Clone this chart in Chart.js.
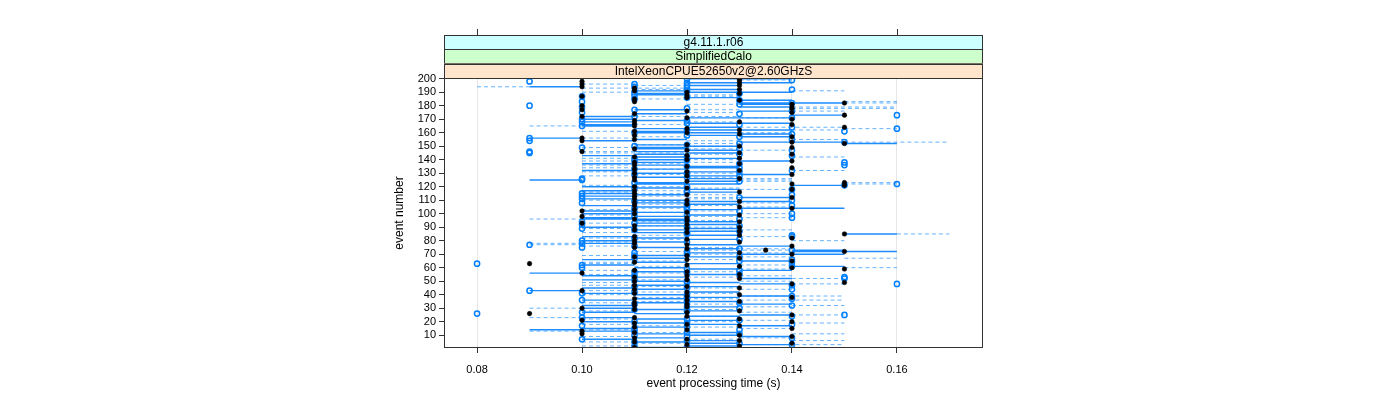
<!DOCTYPE html>
<html><head><meta charset="utf-8">
<script src="https://cdn.jsdelivr.net/npm/chart.js@4.4.1/dist/chart.umd.min.js"></script>
<style>html,body{margin:0;padding:0;background:#fff}canvas{display:block}</style>
</head><body>
<canvas id="c" width="1400" height="400"></canvas>
<script>
// All per-event arrays are ordered from event 200 down to event 1.
const stripLabels = ["g4.11.1.r06", "SimplifiedCalo", "IntelXeonCPUE52650v2@2.60GHzS"];
const stripColors = ["#ccffff", "#ccffcc", "#ffe5cc"];
const xTicks = [0.08, 0.10, 0.12, 0.14, 0.16];
const yTicks = [10,20,30,40,50,60,70,80,90,100,110,120,130,140,150,160,170,180,190,200];

const blackTime = [
.13,.13,.10,.13,.10,.13,.10,.11,.13,.11, .12,.13,.12,.10,.12,.11,.13,.11,.15,.14,
.10,.14,.14,.10,.12,.14,.11,.15,.10,.12, .14,.11,.13,.11,.14,.11,.15,.12,.13,.11,
.12,.13,.11,.14,.10,.11,.10,.14,.15,.12, .13,.14,.11,.12,.10,.13,.14,.12,.11,.13,
.12,.14,.11,.13,.11,.12,.14,.11,.13,.12, .11,.14,.12,.11,.13,.11,.12,.15,.14,.15,
.11,.12,.14,.11,.13,.11,.12,.11,.14,.11, .12,.13,.11,.12,.11,.13,.14,.11,.10,.12,
.11,.13,.10,.12,.11,.12,.13,.10,.12,.11, .13,.12,.11,.13,.12,.15,.13,.11,.14,.12,
.11,.13,.11,.12,.14,.11,.12,.135,.15,.13, .14,.12,.11,.13,.12,.14,.11,.09,.12,.13,
.14,.15,.11,.12,.10,.13,.12,.11,.13,.12, .11,.15,.14,.11,.12,.13,.11,.10,.12,.11,
.13,.12,.14,.11,.12,.13,.11,.12,.11,.12, .10,.11,.13,.12,.09,.14,.12,.11,.13,.10,
.14,.11,.12,.13,.11,.14,.12,.10,.11,.10, .13,.14,.11,.12,.13,.11,.14,.12,.13,.11
];
const blueTime = [
.12,.14,.09,.12,.11,.12,.11,.12,.14,.12, .11,.13,.11,.10,.12,.11,.13,.10,.14,.13,
.09,.10,.12,.11,.14,.10,.13,.16,.11,.14, .10,.12,.10,.12,.13,.10,.14,.16,.12,.15,
.11,.14,.12,.13,.09,.14,.09,.15,.13,.12, .11,.10,.13,.14,.09,.09,.13,.14,.12,.11,
.12,.11,.15,.13,.15,.12,.13,.11,.14,.13, .12,.11,.13,.12,.10,.10,.13,.11,.16,.15,
.12,.11,.14,.12,.12,.10,.14,.10,.13,.10, .14,.11,.10,.12,.14,.12,.11,.12,.13,.11,
.14,.12,.11,.14,.13,.12,.10,.11,.10,.13, .12,.10,.11,.13,.12,.12,.14,.14,.11,.13,
.10,.12,.10,.09,.11,.10,.13,.14,.12,.11, .12,.11,.13,.11,.14,.13,.14,.08,.10,.14,
.10,.12,.13,.11,.12,.13,.11,.15,.15,.11, .12,.12,.16,.14,.11,.12,.14,.09,.11,.10,
.12,.14,.12,.14,.10,.12,.13,.11,.14,.12, .13,.11,.12,.10,.08,.15,.14,.10,.12,.13,
.11,.12,.14,.10,.12,.11,.13,.11,.12,.13, .11,.12,.14,.10,.12,.11,.13,.14,.11,.12
];
const solidStart = [
.12,null,null,.12,null,.12,.09,null,.12,.11, .12,.11,.11,null,.12,null,.13,null,.13,.13,
null,.13,null,.11,.13,null,.11,.14,.10,.12, .10,.11,.10,.12,.10,.10,.12,.11,.12,.11,
.11,.13,.12,.13,.09,.11,.10,.13,.15,.11, .12,.11,.11,.12,.11,.12,.11,.10,.11,.12,
.11,.13,.11,.10,.11,.12,.12,.11,.10,.12, .11,.13,.12,.11,.12,.09,.12,.11,.11,.14,
.10,.11,.12,.10,.12,.10,.11,.10,.13,.10, .11,.12,.11,.12,.10,.11,.13,.12,.10,.11,
.10,.12,.11,.10,.10,.11,.12,.11,.12,.11, .10,.12,.11,.12,.11,.15,.12,.10,.11,.12,
.10,.11,.10,.12,.13,.11,.12,.14,.14,.12, .13,.11,.12,.11,.10,.13,.11,.12,.10,.14,
.11,.12,.13,.11,.09,.12,.10,.11,.13,.10, .11,.12,.13,.11,.12,.10,.11,.09,.12,.10,
.11,.13,.12,.11,.10,.12,.11,.13,.10,.12, .10,.11,.12,.10,.11,.13,.12,.10,.11,.12,
.10,.11,.12,.13,.11,.10,.09,.10,.12,.11, .12,.13,.11,.10,.12,.11,.12,.13,.12,.11
];
const solidEnd = [
.14,null,null,.14,null,.13,.10,null,.13,.12, .14,.12,.12,null,.13,null,.14,null,.15,.14,
null,.14,null,.12,.14,null,.12,.15,.11,.14, .11,.12,.11,.14,.11,.11,.13,.12,.14,.12,
.13,.14,.13,.14,.10,.12,.11,.15,.16,.12, .13,.12,.12,.13,.12,.13,.12,.11,.12,.13,
.12,.14,.12,.11,.12,.13,.13,.12,.11,.13, .12,.14,.13,.12,.13,.10,.13,.12,.13,.15,
.11,.12,.13,.11,.13,.11,.12,.11,.14,.11, .12,.14,.12,.13,.11,.12,.15,.13,.11,.12,
.11,.13,.12,.11,.12,.12,.13,.12,.13,.12, .11,.13,.12,.13,.12,.16,.13,.11,.12,.13,
.11,.12,.11,.13,.14,.12,.13,.15,.16,.13, .15,.12,.13,.12,.11,.14,.12,.13,.11,.15,
.12,.13,.14,.12,.10,.13,.11,.12,.14,.11, .12,.13,.14,.12,.13,.11,.12,.10,.13,.11,
.12,.14,.13,.12,.11,.13,.12,.14,.11,.13, .11,.12,.13,.11,.12,.14,.13,.11,.12,.13,
.11,.12,.13,.14,.12,.11,.10,.11,.13,.12, .13,.14,.12,.11,.13,.12,.13,.14,.13,.12
];
const dashStart = [
null,.13,null,null,.10,.11,.08,.10,.11,.14, .10,null,.12,.12,null,.11,.13,.15,.15,.12,
null,.14,.14,.12,.14,.12,.11,null,.11,.13, null,.11,.12,null,.11,.09,.13,.15,.14,.10,
.13,.13,null,.11,.10,.14,.12,.15,.12,.11, .12,.10,.12,.13,.10,.10,.12,.10,.14,.10,
.12,.10,.12,.11,.10,.12,.10,.11,.14,.10, .12,.11,.10,.12,.13,.13,.13,.15,.15,.10,
.11,.12,.13,.11,.10,.11,.12,.11,.12,.12, .10,.11,.13,.11,.12,.13,.11,.10,.12,.11,
.13,.10,.12,.13,.09,.12,.11,.10,.12,.11, .12,.10,.13,.12,.10,.16,.11,.13,.10,.11,
.14,.10,.09,.09,.10,.12,.13,.12,.11,.13, .12,.10,.13,.15,.12,.11,.10,.10,.13,.11,
.15,.13,.10,.12,.11,.10,.13,.12,.14,.11, .13,.10,.14,.10,.11,.12,.13,.10,.11,.12,
.10,.13,.11,.12,.13,.11,.10,.12,.14,.13, .09,.12,.10,.13,.11,.14,.12,.09,.10,.13,
.12,.14,.10,.11,.12,.13,.10,.09,.11,.14, .12,.10,.13,.12,.14,.10,.11,.13,.10,.12
];
const dashEnd = [
null,.14,null,null,.11,.12,.09,.12,.12,.15, .11,null,.13,.13,null,.12,.14,.16,.16,.13,
null,.16,.16,.13,.15,.13,.12,null,.13,.14, null,.12,.13,null,.12,.10,.15,.16,.15,.11,
.14,.14,null,.12,.11,.15,.13,.17,.13,.12, .13,.11,.13,.14,.11,.12,.13,.11,.15,.11,
.13,.11,.13,.12,.11,.13,.11,.12,.15,.11, .13,.12,.11,.13,.14,.14,.14,.16,.16,.11,
.12,.13,.14,.12,.11,.12,.13,.12,.13,.13, .11,.12,.14,.12,.13,.14,.12,.11,.13,.12,
.14,.11,.13,.14,.10,.13,.12,.11,.13,.12, .13,.11,.14,.13,.11,.17,.12,.14,.11,.12,
.15,.11,.10,.10,.11,.13,.14,.14,.12,.14, .13,.11,.14,.16,.13,.12,.11,.11,.14,.12,
.16,.14,.11,.13,.12,.11,.14,.13,.15,.12, .14,.11,.15,.11,.12,.13,.14,.11,.12,.13,
.11,.15,.12,.13,.15,.12,.11,.13,.15,.14, .10,.13,.11,.14,.12,.15,.13,.10,.11,.14,
.13,.15,.11,.12,.13,.14,.11,.10,.12,.15, .13,.11,.14,.13,.15,.11,.12,.15,.11,.13
];

const N = blackTime.length;
const eventOf = i => N - i;
const pts = arr => arr.map((v, i) => ({x: v, y: eventOf(i)}));
function segs(a, b) {
  const out = [];
  a.forEach((s, i) => {
    if (s === null) return;
    const y = eventOf(i);
    out.push({x: s, y: y}, {x: b[i], y: y}, {x: b[i], y: null});
  });
  return out;
}

const FONT = "'Liberation Sans', Arial, Helvetica, sans-serif";
const PLOT = {left: 444, right: 983, top: 78, bottom: 348};

const decor = {
  id: 'decor',
  afterDraw(chart) {
    const ctx = chart.ctx, ca = chart.chartArea, xs = chart.scales.x;
    ctx.save();
    const stripTop = 35, h = (ca.top - stripTop) / 3;
    for (let k = 0; k < 3; k++) {
      const y0 = stripTop + k * h;
      ctx.fillStyle = stripColors[k];
      ctx.fillRect(ca.left, y0, ca.right - ca.left, h);
      ctx.strokeStyle = '#333';
      ctx.lineWidth = 1;
      ctx.strokeRect(ca.left + 0.5, Math.round(y0) + 0.5, ca.right - ca.left - 1, Math.round(h));
      ctx.fillStyle = '#000';
      ctx.font = '12px ' + FONT;
      ctx.textAlign = 'center';
      ctx.textBaseline = 'middle';
      ctx.fillText(stripLabels[k], (ca.left + ca.right) / 2, y0 + h / 2 + 0.5);
    }
    ctx.strokeStyle = '#333';
    xTicks.forEach(v => {
      const x = Math.round(xs.getPixelForValue(v)) + 0.5;
      ctx.beginPath(); ctx.moveTo(x, stripTop - 6); ctx.lineTo(x, stripTop); ctx.stroke();
    });
    ctx.strokeStyle = '#333';
    ctx.strokeRect(ca.left + 0.5, ca.top + 0.5, ca.right - ca.left - 1, ca.bottom - ca.top - 1);
    ctx.restore();
  }
};

new Chart(document.getElementById('c'), {
  type: 'scatter',
  data: {
    datasets: [
      {label: 'black', data: pts(blackTime), pointRadius: 2.3, pointBackgroundColor: '#000', pointBorderColor: '#000', pointBorderWidth: 0.5},
      {label: 'blue', data: pts(blueTime), pointRadius: 2.6, pointBackgroundColor: 'rgba(0,0,0,0)', pointBorderColor: '#0080ff', pointBorderWidth: 1.5},
      {label: 'solid', data: segs(solidStart, solidEnd), showLine: true, spanGaps: false, pointRadius: 0, borderColor: '#1e8cff', borderWidth: 1.4},
      {label: 'dashed', data: segs(dashStart, dashEnd), showLine: true, spanGaps: false, pointRadius: 0, borderColor: 'rgba(0,128,255,0.6)', borderWidth: 1, borderDash: [4, 3]}
    ]
  },
  options: {
    responsive: false,
    animation: false,
    events: [],
    layout: {padding: {left: 388, right: 1400 - PLOT.right, top: PLOT.top, bottom: 0}},
    plugins: {legend: {display: false}, tooltip: {enabled: false}},
    scales: {
      x: {
        type: 'linear', min: 0.0737, max: 0.1764,
        afterBuildTicks: s => { s.ticks = xTicks.map(v => ({value: v})); },
        afterFit: s => { s.height = 400 - PLOT.bottom; },
        ticks: {callback: v => v.toFixed(2), color: '#000', font: {size: 11, family: FONT}, padding: 10, maxRotation: 0, autoSkip: false},
        grid: {color: '#e6e6e6', tickColor: '#333', tickLength: 5, drawOnChartArea: true},
        border: {display: false},
        title: {display: true, text: 'event processing time (s)', color: '#000', font: {size: 12, family: FONT}, padding: {top: 4, bottom: 9}}
      },
      y: {
        type: 'linear', min: 0.5, max: 200.5,
        afterBuildTicks: s => { s.ticks = yTicks.map(v => ({value: v})); },
        afterFit: s => { s.width = PLOT.left - 388; },
        ticks: {color: '#000', font: {size: 11, family: FONT}, padding: 3, autoSkip: false},
        grid: {color: 'rgba(0,0,0,0)', tickColor: '#333', tickLength: 5},
        border: {display: false},
        title: {display: true, text: 'event number', color: '#000', font: {size: 12, family: FONT}, padding: {top: 4, bottom: 4}}
      }
    }
  },
  plugins: [decor]
});
</script>
</body></html>
